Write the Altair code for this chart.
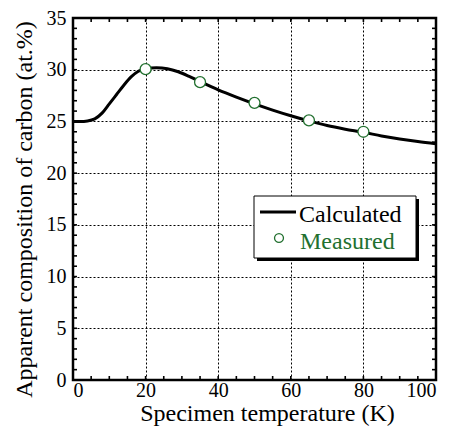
import altair as alt
import pandas as pd

# ---- data ----
calc_temp = [0, 2, 4, 6, 8, 10, 12, 14, 16, 18, 20, 23, 26, 29, 32, 35, 40, 45,
             50, 55, 60, 65, 70, 75, 80, 85, 90, 95, 100]
calc_comp = [25.0, 25.0, 25.05, 25.25, 25.8, 26.7, 27.6, 28.5, 29.3, 29.85, 30.1,
             30.2, 30.1, 29.8, 29.35, 28.85, 28.05, 27.35, 26.7, 26.1, 25.55, 25.05,
             24.6, 24.25, 23.95, 23.6, 23.3, 23.05, 22.85]
meas_temp = [20, 35, 50, 65, 80]
meas_comp = [30.05, 28.8, 26.8, 25.1, 24.0]

x_labels = [0, 20, 40, 60, 80, 100]
y_labels = [0, 5, 10, 15, 20, 25, 30, 35]
x_minor = [0, 5, 10, 15, 20, 25, 30, 35, 40, 45, 50, 55, 60, 65, 70, 75, 80, 85, 90, 95, 100]
y_minor = [0, 1, 2, 3, 4, 5, 6, 7, 8, 9, 10, 11, 12, 13, 14, 15, 16, 17, 18, 19, 20,
           21, 22, 23, 24, 25, 26, 27, 28, 29, 30, 31, 32, 33, 34, 35]
legend_labels = ["Calculated", "Measured"]

x_title = "Specimen temperature (K)"
y_title = "Apparent composition of carbon (at.%)"

# ---- style ----
W, H = 363, 362
FONT = "Liberation Serif"
GREEN = "#22702f"
TICK = 4

calc_df = pd.DataFrame({"T": calc_temp, "C": calc_comp})
meas_df = pd.DataFrame({"T": meas_temp, "C": meas_comp})
xt_df = pd.DataFrame({"T": x_minor})
yt_df = pd.DataFrame({"C": y_minor})

xscale = alt.Scale(domain=[0, 100], nice=False, zero=False)
yscale = alt.Scale(domain=[0, 35], nice=False, zero=False)

x_axis = alt.Axis(values=x_labels, grid=True, gridDash=[2, 2], gridColor="black",
                  gridWidth=1, gridOpacity=1, ticks=False, domain=False,
                  labelFont=FONT, labelFontSize=20, labelColor="black", labelPadding=0,
                  labelFlush=True, labelOverlap=False,
                  title=x_title, titleFont=FONT, titleFontSize=24,
                  titleFontWeight="normal", titleColor="black",
                  titleX=194, titleY=40, titleBaseline="alphabetic", titleAlign="center")
y_axis = alt.Axis(values=y_labels, grid=True, gridDash=[2, 2], gridColor="black",
                  gridWidth=1, gridOpacity=1, ticks=False, domain=False,
                  labelFont=FONT, labelFontSize=20, labelColor="black", labelPadding=7,
                  labelFlush=False, labelOverlap=False,
                  title=y_title, titleFont=FONT, titleFontSize=24,
                  titleFontWeight="normal", titleColor="black", titleAngle=270,
                  titleX=-42, titleY=191, titleBaseline="alphabetic", titleAlign="center")

X = alt.X("T:Q", scale=xscale, axis=x_axis)
Y = alt.Y("C:Q", scale=yscale, axis=y_axis)

line = alt.Chart(calc_df).mark_line(color="black", strokeWidth=3, interpolate="monotone").encode(
    x=X, y=Y)

points = alt.Chart(meas_df).mark_point(
    filled=True, fill="white", stroke=GREEN, strokeWidth=1.3, size=120,
    opacity=1, fillOpacity=1, shape="circle"
).encode(x=X, y=Y)

tick_style = dict(color="black", strokeWidth=1.6)
ticks_bottom = alt.Chart(xt_df).mark_rule(**tick_style).encode(
    x=X, y=alt.value(H), y2=alt.value(H - TICK))
ticks_top = alt.Chart(xt_df).mark_rule(**tick_style).encode(
    x=X, y=alt.value(0), y2=alt.value(TICK))
ticks_left = alt.Chart(yt_df).mark_rule(**tick_style).encode(
    y=Y, x=alt.value(0), x2=alt.value(TICK))
ticks_right = alt.Chart(yt_df).mark_rule(**tick_style).encode(
    y=Y, x=alt.value(W), x2=alt.value(W - TICK))

# ---- legend box (decoration) ----
LX, LY, LW, LH = 181, 178, 162, 62
one = meas_df.head(1)
shadow = alt.Chart(one).mark_rect(color="black").encode(
    x=alt.value(LX + 3), x2=alt.value(LX + LW + 3),
    y=alt.value(LY + 3), y2=alt.value(LY + LH + 3))
box = alt.Chart(one).mark_rect(fill="white", stroke="black", strokeWidth=1).encode(
    x=alt.value(LX), x2=alt.value(LX + LW),
    y=alt.value(LY), y2=alt.value(LY + LH))
leg_line = alt.Chart(one).mark_rule(color="black", strokeWidth=3).encode(
    x=alt.value(LX + 6), x2=alt.value(LX + 42), y=alt.value(LY + 16))
leg_pt = alt.Chart(one).mark_point(
    filled=True, fill="white", stroke=GREEN, strokeWidth=1.3, size=80,
    opacity=1, fillOpacity=1, shape="circle"
).encode(x=alt.value(LX + 25), y=alt.value(LY + 42))
leg_t1 = alt.Chart(one).mark_text(
    text=legend_labels[0], font=FONT, fontSize=24, align="left",
    baseline="alphabetic", color="black"
).encode(x=alt.value(LX + 45), y=alt.value(LY + 26))
leg_t2 = alt.Chart(one).mark_text(
    text=legend_labels[1], font=FONT, fontSize=24, align="left",
    baseline="alphabetic", color=GREEN
).encode(x=alt.value(LX + 46), y=alt.value(LY + 53))

chart = alt.layer(
    line, points, ticks_bottom, ticks_top, ticks_left, ticks_right,
    shadow, box, leg_line, leg_pt, leg_t1, leg_t2
).properties(
    width=W, height=H,
    autosize=alt.AutoSizeParams(type="none"),
    padding={"left": 65, "top": 10, "right": 10, "bottom": 46},
    background="white",
).configure_view(
    stroke="black", strokeWidth=2.5
)

chart.save("out.html", embed_options={"renderer": "svg", "actions": False})
